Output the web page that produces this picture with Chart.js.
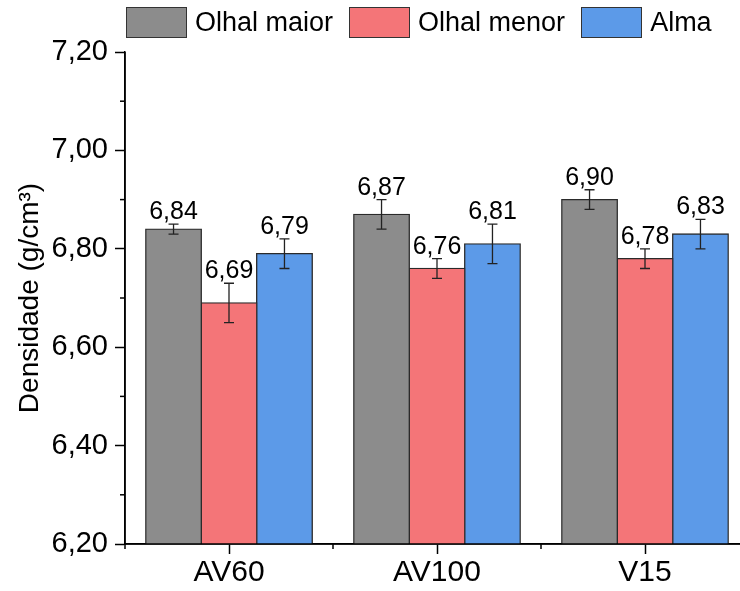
<!DOCTYPE html>
<html>
<head>
<meta charset="utf-8">
<script src="https://cdn.jsdelivr.net/npm/chart.js@4.4.0/dist/chart.umd.min.js"></script>
<style>
  html, body { margin: 0; padding: 0; background: #fff; overflow: hidden; width: 740px; height: 591px; }
  #wrap { position: relative; width: 760px; height: 591px; }
  #legend { position: absolute; top: 7px; left: 126px; display: flex; align-items: center;
            font-family: "Liberation Sans", Arial, sans-serif; font-size: 27px; color: #000; }
  .item { display: flex; align-items: center; margin-right: 16px; }
  .box { width: 59px; height: 29px; border: 1.5px solid #333; margin-right: 8px; }
</style>
</head>
<body>
<div id="wrap">
  <canvas id="chart" width="760" height="591"></canvas>
  <div id="legend"></div>
</div>
<script>
const categories = ['AV60', 'AV100', 'V15'];
const seriesNames = ['Olhal maior', 'Olhal menor', 'Alma'];
const olhalMaior = [6.84, 6.87, 6.90];
const olhalMenor = [6.69, 6.76, 6.78];
const alma = [6.79, 6.81, 6.83];
const olhalMaiorErr = [0.01, 0.03, 0.02];
const olhalMenorErr = [0.04, 0.02, 0.02];
const almaErr = [0.03, 0.04, 0.03];
const yTicks = [6.2, 6.4, 6.6, 6.8, 7.0, 7.2];

const colors = ['#8c8c8c', '#f47578', '#5c9ae8'];
const errors = [olhalMaiorErr, olhalMenorErr, almaErr];
const fontFamily = '"Liberation Sans", Arial, sans-serif';
const fmt = (v) => v.toFixed(2).replace('.', ',');

// html legend
document.getElementById('legend').innerHTML = seriesNames.map((name, i) => `
  <div class="item"><div class="box" style="background:${colors[i]}"></div><span>${name}</span></div>
`).join('');

// error bars, value labels, minor ticks
const extrasPlugin = {
  id: 'extras',
  afterDatasetsDraw(chart) {
    const { ctx, chartArea } = chart;
    const x = chart.scales.x;
    const y = chart.scales.y;
    ctx.save();
    ctx.strokeStyle = '#222';
    ctx.lineWidth = 1.3;
    ctx.fillStyle = '#000';
    ctx.font = `25px ${fontFamily}`;
    ctx.textAlign = 'center';
    ctx.textBaseline = 'alphabetic';
    chart.data.datasets.forEach((ds, di) => {
      const meta = chart.getDatasetMeta(di);
      meta.data.forEach((bar, i) => {
        const v = ds.data[i];
        const e = errors[di][i];
        const top = y.getPixelForValue(v + e);
        const bot = y.getPixelForValue(v - e);
        ctx.beginPath();
        ctx.moveTo(bar.x, top); ctx.lineTo(bar.x, bot);
        ctx.moveTo(bar.x - 5, top); ctx.lineTo(bar.x + 5, top);
        ctx.moveTo(bar.x - 5, bot); ctx.lineTo(bar.x + 5, bot);
        ctx.stroke();
        ctx.fillText(fmt(v), bar.x, top - 5);
      });
    });

    ctx.strokeStyle = '#000';
    ctx.lineWidth = 1.5;
    // axis lines on top of bars
    ctx.beginPath();
    ctx.moveTo(chartArea.left, chartArea.top);
    ctx.lineTo(chartArea.left, chartArea.bottom);
    ctx.lineTo(chartArea.right, chartArea.bottom);
    ctx.stroke();
    // minor y ticks
    for (let i = 0; i < yTicks.length - 1; i++) {
      const py = y.getPixelForValue((yTicks[i] + yTicks[i + 1]) / 2);
      ctx.beginPath();
      ctx.moveTo(chartArea.left, py); ctx.lineTo(chartArea.left - 5, py);
      ctx.stroke();
    }
    // minor x ticks between categories
    for (let i = 0; i <= categories.length; i++) {
      const px = x.getPixelForValue(i - 0.5);
      ctx.beginPath();
      ctx.moveTo(px, chartArea.bottom); ctx.lineTo(px, chartArea.bottom + 5);
      ctx.stroke();
    }
    ctx.restore();
  }
};

new Chart(document.getElementById('chart'), {
  type: 'bar',
  data: {
    labels: categories,
    datasets: [olhalMaior, olhalMenor, alma].map((data, i) => ({
      label: seriesNames[i],
      data,
      backgroundColor: colors[i],
      borderColor: '#2a2a2a',
      borderWidth: 1.3,
      inflateAmount: 0.7,
      categoryPercentage: 0.8,
      barPercentage: 1.0
    }))
  },
  options: {
    responsive: false,
    animation: false,
    layout: { padding: { top: 52, right: 11, left: 0, bottom: 0 } },
    plugins: {
      legend: { display: false },
      tooltip: { enabled: false }
    },
    scales: {
      x: {
        offset: true,
        afterFit: (scale) => { scale.height = 47; },
        grid: { display: true, drawOnChartArea: false, offset: false, tickLength: 10, tickColor: '#000', tickWidth: 1.5 },
        border: { display: true, color: '#000', width: 1.5 },
        ticks: { color: '#000', padding: 1, font: { family: fontFamily, size: 30 } }
      },
      y: {
        min: 6.2,
        max: 7.2,
        afterFit: (scale) => { scale.width = 125; },
        afterBuildTicks: (scale) => { scale.ticks = yTicks.map((v) => ({ value: v })); },
        grid: { display: true, drawOnChartArea: false, tickLength: 10, tickColor: '#000', tickWidth: 1.5 },
        border: { display: true, color: '#000', width: 1.5 },
        ticks: {
          color: '#000',
          padding: 7,
          font: { family: fontFamily, size: 29 },
          callback: (value) => fmt(value)
        },
        title: {
          display: true,
          text: 'Densidade (g/cm³)',
          color: '#000',
          font: { family: fontFamily, size: 28 },
          padding: { top: 13, bottom: 0 }
        }
      }
    }
  },
  plugins: [extrasPlugin]
});
</script>
</body>
</html>
